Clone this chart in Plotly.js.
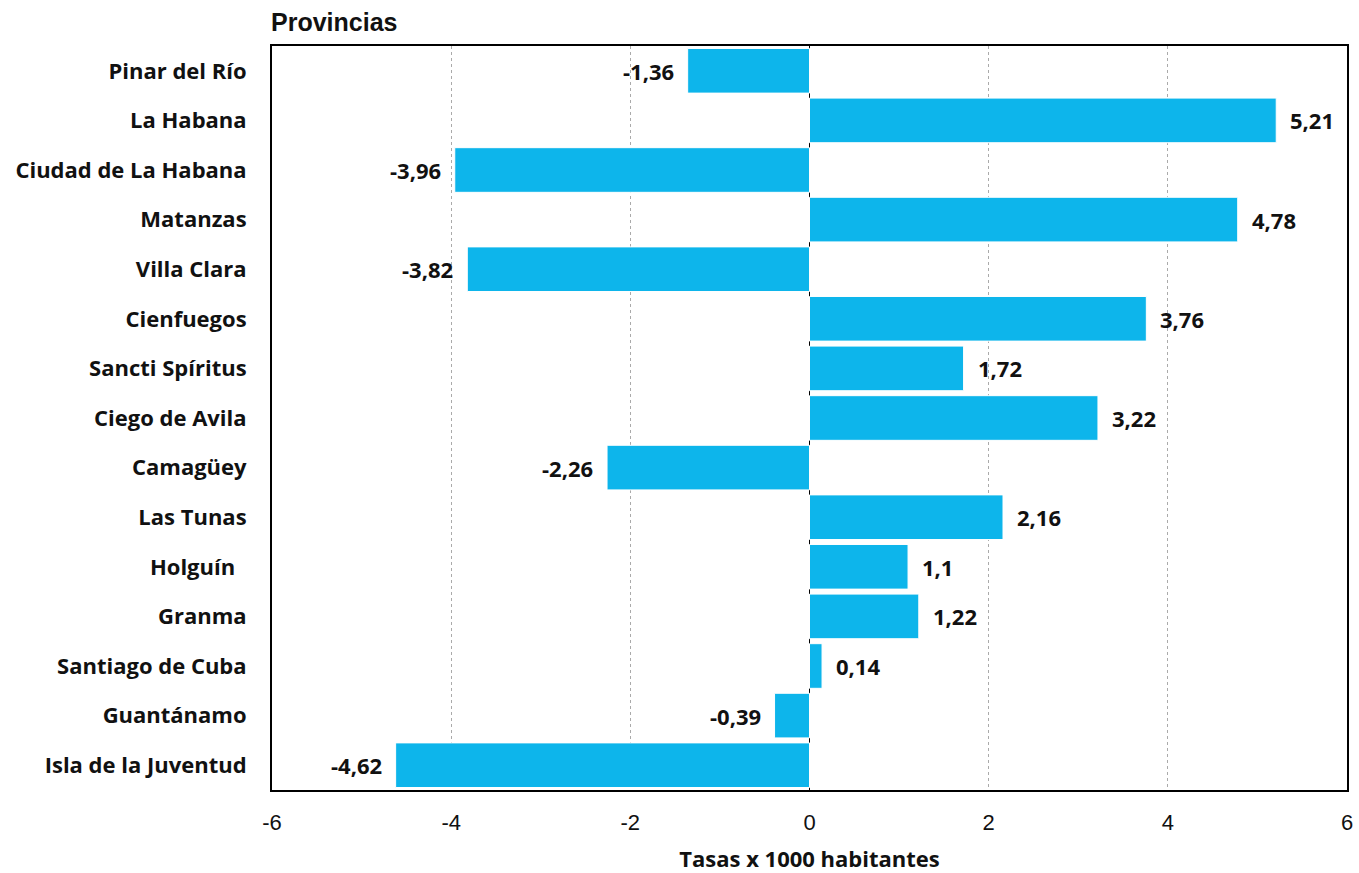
<!DOCTYPE html>
<html>
<head>
<meta charset="utf-8">
<script src="https://cdn.plot.ly/plotly-3.0.1.min.js"></script>
<style>html,body{margin:0;padding:0;background:#fff;}#chart{width:1359px;height:873px;}</style>
</head>
<body>
<div id="chart"></div>
<script>
const provincias = ["Pinar del Río","La Habana","Ciudad de La Habana","Matanzas","Villa Clara","Cienfuegos","Sancti Spíritus","Ciego de Avila","Camagüey","Las Tunas","Holguín\u00a0\u00a0","Granma","Santiago de Cuba","Guantánamo","Isla de la Juventud"];
const tasas = [-1.36, 5.21, -3.96, 4.78, -3.82, 3.76, 1.72, 3.22, -2.26, 2.16, 1.1, 1.22, 0.14, -0.39, -4.62];
const xTicks = [-6,-4,-2,0,2,4,6];
const xTickText = ["-6","-4","-2","0","2","4","6"];

const labelFont = {family: "Open Sans, Noto Sans, sans-serif", size: 22, color: "#111", weight: "bold"};
const catFont = {family: "Open Sans, Noto Sans, sans-serif", size: 22, color: "#111", weight: "bold"};
const annotations = tasas.map((v, i) => ({
  x: v, y: provincias[i], xref: "x", yref: "y",
  text: String(v).replace(".", ","),
  showarrow: false,
  xanchor: v < 0 ? "right" : "left",
  xshift: v < 0 ? -12 : 12,
  font: labelFont
}));
annotations.push({
  xref: "paper", yref: "paper", x: 0, y: 1, xanchor: "left", yanchor: "bottom", yshift: 8,
  xshift: -3,
  text: "<b>Provincias</b>", showarrow: false,
  font: {family: "Liberation Sans, Arial, sans-serif", size: 25, color: "#111"}
});

const trace = {
  type: "bar", orientation: "h",
  y: provincias, x: tasas,
  marker: {color: "#0db5eb", line: {color: "#ffffff", width: 1}},
  hoverinfo: "x+y"
};

const layout = {
  width: 1359, height: 873,
  margin: {l: 272, r: 12, t: 46, b: 83},
  paper_bgcolor: "#fff", plot_bgcolor: "#fff",
  bargap: 0.1,
  showlegend: false,
  separators: ",.",
  xaxis: {
    range: [-6, 6], tickvals: xTicks, ticktext: xTickText, ticks: "",
    ticklabelstandoff: 12,
    showgrid: true, gridcolor: "#aaa", griddash: "dot", gridwidth: 1,
    zeroline: true, zerolinecolor: "#000", zerolinewidth: 1.5,
    showline: true, linecolor: "#000", linewidth: 2, mirror: true,
    tickfont: {family: "Liberation Sans, Arial, sans-serif", size: 22, color: "#111"},
    title: {text: "Tasas x 1000 habitantes", standoff: 24,
      font: {family: "Open Sans, Noto Sans, sans-serif", size: 22, color: "#111", weight: "bold"}}
  },
  yaxis: {
    autorange: "reversed", showgrid: false, ticks: "",
    showline: true, linecolor: "#000", linewidth: 2, mirror: true,
    tickfont: catFont,
    ticklabelstandoff: 19,
    automargin: false
  },
  annotations: annotations
};
Plotly.newPlot("chart", [trace], layout, {displayModeBar: false, staticPlot: true});
</script>
</body>
</html>
